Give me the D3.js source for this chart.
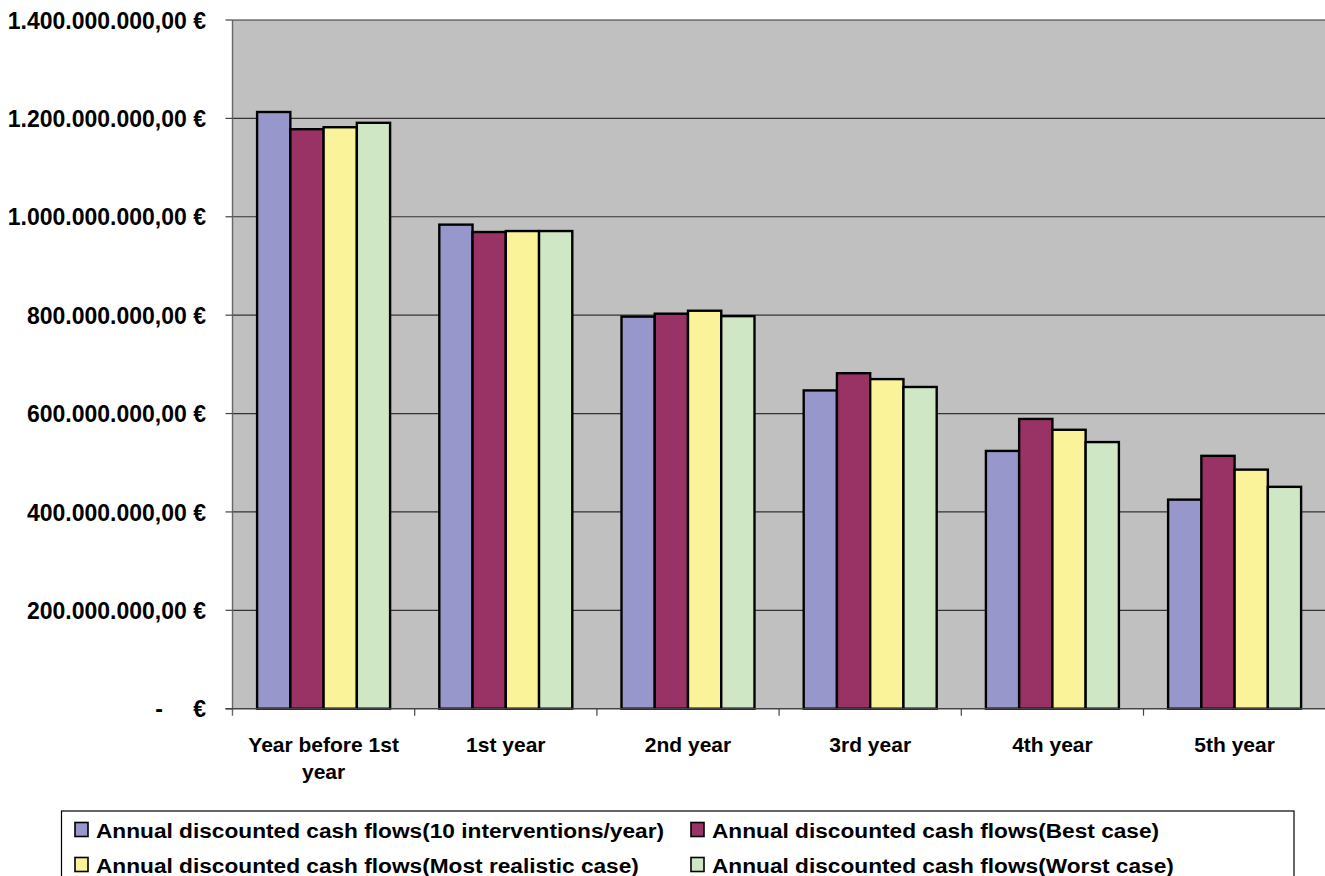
<!DOCTYPE html>
<html>
<head>
<meta charset="utf-8">
<script src="https://cdn.jsdelivr.net/npm/d3@7/dist/d3.min.js"></script>
<style>
  html, body { margin: 0; padding: 0; background: #ffffff; }
  svg { display: block; }
  text { font-family: "Liberation Sans", Arial, sans-serif; font-weight: bold; fill: #000; }
</style>
</head>
<body>
<svg id="chart" width="1325" height="876"></svg>
<script>
// Categories (x axis), two-line labels
const categories = ["Year before 1st year", "1st year", "2nd year", "3rd year", "4th year", "5th year"];
const categoryLines = [["Year before 1st", "year"], ["1st year"], ["2nd year"], ["3rd year"], ["4th year"], ["5th year"]];

// Series names
const seriesNames = [
  "Annual discounted cash flows(10 interventions/year)",
  "Annual discounted cash flows(Best case)",
  "Annual discounted cash flows(Most realistic case)",
  "Annual discounted cash flows(Worst case)"
];

// Values in euro, one array per series
const tenInterventions = [1213000000, 984000000, 797000000, 647000000, 524000000, 425000000];
const bestCase         = [1178000000, 969000000, 803000000, 682000000, 589000000, 514000000];
const mostRealistic    = [1182000000, 971000000, 809000000, 670000000, 567000000, 486000000];
const worstCase        = [1191000000, 971000000, 798000000, 654000000, 542000000, 451000000];
const seriesValues = [tenInterventions, bestCase, mostRealistic, worstCase];

const seriesColors = ["#9797cb", "#993366", "#faf39a", "#d0e7c6"];

// Y axis ticks
const yTickValues = [0, 200000000, 400000000, 600000000, 800000000, 1000000000, 1200000000, 1400000000];

const svg = d3.select("#chart");

const plot = { left: 232.5, right: 1325.7, top: 20, bottom: 708.7 };

const y = d3.scaleLinear().domain([0, 1400000000]).range([plot.bottom, plot.top]);
const x0 = d3.scaleBand().domain(categories).range([plot.left, plot.right]).paddingInner(0).paddingOuter(0);
const x1 = d3.scaleBand().domain(d3.range(seriesNames.length)).range([0, x0.bandwidth()]).paddingInner(0).paddingOuter(0.74);

const euro = d3.formatLocale({ decimal: ",", thousands: ".", grouping: [3], currency: ["", " €"] });
const fmt = euro.format("$,.2f");

// Plot background
svg.append("rect")
  .attr("x", plot.left).attr("y", plot.top)
  .attr("width", plot.right - plot.left).attr("height", plot.bottom - plot.top)
  .attr("fill", "#c0c0c0");

// Horizontal gridlines
svg.append("g").selectAll("line")
  .data(yTickValues.filter(v => v > 0))
  .join("line")
  .attr("x1", plot.left).attr("x2", plot.right)
  .attr("y1", d => y(d)).attr("y2", d => y(d))
  .attr("stroke", "#333").attr("stroke-width", 1.2);

// Bars
const groups = svg.append("g").selectAll("g")
  .data(categories)
  .join("g")
  .attr("transform", d => `translate(${x0(d)},0)`);

groups.selectAll("rect")
  .data((c, i) => seriesValues.map((vals, s) => ({ s, v: vals[i] })))
  .join("rect")
  .attr("x", d => x1(d.s))
  .attr("width", x1.bandwidth())
  .attr("y", d => y(d.v))
  .attr("height", d => y(0) - y(d.v))
  .attr("fill", d => seriesColors[d.s])
  .attr("stroke", "#000")
  .attr("stroke-width", 2.4);

// Left axis line and ticks
svg.append("line")
  .attr("x1", plot.left).attr("x2", plot.left)
  .attr("y1", plot.top).attr("y2", plot.bottom + 7)
  .attr("stroke", "#666").attr("stroke-width", 1.4);

svg.append("g").selectAll("line")
  .data(yTickValues)
  .join("line")
  .attr("x1", plot.left - 7).attr("x2", plot.left)
  .attr("y1", d => y(d)).attr("y2", d => y(d))
  .attr("stroke", "#444").attr("stroke-width", 1.2);

// Bottom axis line and ticks at category boundaries
svg.append("line")
  .attr("x1", plot.left - 7).attr("x2", plot.right)
  .attr("y1", plot.bottom).attr("y2", plot.bottom)
  .attr("stroke", "#444").attr("stroke-width", 1.4);

svg.append("g").selectAll("line")
  .data(categories.slice(1))
  .join("line")
  .attr("x1", d => x0(d)).attr("x2", d => x0(d))
  .attr("y1", plot.bottom).attr("y2", plot.bottom + 7)
  .attr("stroke", "#444").attr("stroke-width", 1.2);

// Y tick labels
const yLab = svg.append("g").style("font-size", "23px");
yLab.selectAll("text")
  .data(yTickValues.filter(v => v > 0))
  .join("text")
  .attr("x", 206)
  .attr("y", d => y(d) + 8.6)
  .attr("text-anchor", "end")
  .text(d => fmt(d));
// Zero shown in accounting style: dash and euro sign
yLab.append("text").attr("x", 159).attr("y", y(0) + 8.6).attr("text-anchor", "middle").text("-");
yLab.append("text").attr("x", 206).attr("y", y(0) + 8.6).attr("text-anchor", "end").text("€");

// Category labels
const xLab = svg.append("g").style("font-size", "21px");
xLab.selectAll("text")
  .data(categories)
  .join("text")
  .attr("text-anchor", "middle")
  .attr("x", d => x0(d) + x0.bandwidth() / 2)
  .attr("y", 751.5)
  .each(function (d, i) {
    const t = d3.select(this);
    categoryLines[i].forEach((line, k) => {
      t.append("tspan")
        .attr("x", x0(d) + x0.bandwidth() / 2)
        .attr("dy", k === 0 ? 0 : 27)
        .text(line);
    });
  });

// Legend
const legend = svg.append("g");
legend.append("rect")
  .attr("x", 61.5).attr("y", 811)
  .attr("width", 1232.5).attr("height", 100)
  .attr("fill", "#fff").attr("stroke", "#000").attr("stroke-width", 1.2);

const legendCols = [75, 691];
const legendRows = [822.5, 857.5];
const items = legend.selectAll("g.item")
  .data(seriesNames.map((name, i) => ({ name, i })))
  .join("g")
  .attr("class", "item")
  .attr("transform", d => `translate(${legendCols[d.i % 2]},${legendRows[Math.floor(d.i / 2)]})`);

items.append("rect")
  .attr("x", 0).attr("y", 0).attr("width", 13).attr("height", 14)
  .attr("fill", d => seriesColors[d.i])
  .attr("stroke", "#000").attr("stroke-width", 1.6);

items.append("text")
  .attr("x", 21).attr("y", 15)
  .style("font-size", "21px")
  .attr("transform", "scale(1.08,1)")
  .attr("transform-origin", "21 0")
  .text(d => d.name);
</script>
</body>
</html>
